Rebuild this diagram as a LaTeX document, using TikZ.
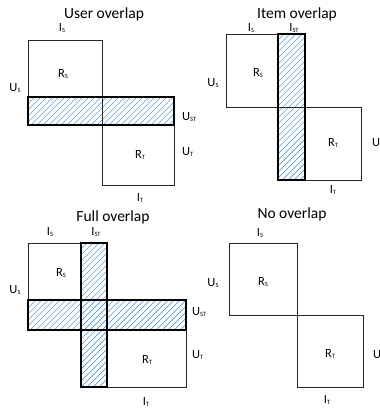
\documentclass[tikz,border=0pt]{standalone}
\usepackage{fontspec}
\setmainfont{Carlito}
\definecolor{hatchblue}{HTML}{5B9BD5}
\newcommand{\lsub}[1]{\raisebox{-0.4pt}{\fontsize{6.5}{7}\selectfont #1}}
% hatched strip: left x, top y, right x, bottom y
\newcommand{\hatchrect}[4]{%
  \begin{scope}
    \clip (#1,#2) rectangle (#3,#4);
    \foreach \c in {0,6,...,800}
      \draw[hatchline] (\c,0) -- (\c-600,600);
  \end{scope}}
\tikzset{
  box/.style={draw=black!85, line width=0.8pt},
  hatchline/.style={draw=hatchblue, line width=0.7pt},
  overlapedge/.style={draw=black, line width=1.4pt},
  title/.style={font=\fontsize{15.5}{18}\selectfont, inner sep=0pt},
  lbl/.style={font=\fontsize{12.5}{15}\selectfont, inner sep=0pt},
}

\begin{document}
\begin{tikzpicture}[x=1pt, y=-1pt]
      \useasboundingbox (0,0) rectangle (380,408);

      % user overlap
      \hatchrect{28}{97}{174}{125}
      \draw[box] (28,40) rectangle (102,125);
      \draw[box] (102,97) rectangle (174,185);
      \draw[overlapedge] (28,97) rectangle (174,125);

      \node[title] (ut) at (104,14) {User overlap};
      \node[lbl] (uis) at (62,28) {I\lsub{S}};
      \node[lbl] (uus) at (15,88) {U\lsub{S}};
      \node[lbl] (urs) at (63,74) {R\lsub{S}};
      \node[lbl] (urt) at (140,155) {R\lsub{T}};
      \node[lbl, anchor=west] (uust) at (182,117) {U\lsub{ST}};
      \node[lbl, anchor=west] (uut) at (182,152) {U\lsub{T}};
      \node[lbl] (uit) at (140,198) {I\lsub{T}};

      % item overlap
      \hatchrect{278}{34}{305}{180}
      \draw[box] (226,34) rectangle (305,107);
      \draw[box] (278,107) rectangle (361,180);
      \draw[overlapedge] (278,34) rectangle (305,180);

      \node[title] (it) at (297,14) {Item overlap};
      \node[lbl] (iis) at (251,28) {I\lsub{S}};
      \node[lbl] (iist) at (294,28) {I\lsub{ST}};
      \node[lbl] (ius) at (213,83) {U\lsub{S}};
      \node[lbl] (irs) at (258,73) {R\lsub{S}};
      \node[lbl] (irt) at (333,143) {R\lsub{T}};
      \node[lbl, anchor=west] (iut) at (372,143) {U\lsub{T}};
      \node[lbl] (iit) at (333,190) {I\lsub{T}};

      % full overlap
      \hatchrect{81}{243}{107}{387}
      \hatchrect{28}{300}{186}{330}
      \draw[box] (28,243) rectangle (107,330);
      \draw[box] (81,300) rectangle (186,387);
      \draw[overlapedge] (81,243) rectangle (107,387);
      \draw[overlapedge] (28,300) rectangle (186,330);

      \node[title] (ft) at (113,217) {Full overlap};
      \node[lbl] (fis) at (50,232) {I\lsub{S}};
      \node[lbl] (fist) at (96,232) {I\lsub{ST}};
      \node[lbl] (fus) at (15,290) {U\lsub{S}};
      \node[lbl] (frs) at (61,273) {R\lsub{S}};
      \node[lbl] (frt) at (147,360) {R\lsub{T}};
      \node[lbl, anchor=west] (fust) at (192,312) {U\lsub{ST}};
      \node[lbl, anchor=west] (fut) at (192,355) {U\lsub{T}};
      \node[lbl] (fit) at (146,402) {I\lsub{T}};

      % no overlap
      \draw[box] (229,243) rectangle (297,315);
      \draw[box] (297,315) rectangle (363,387);

      \node[title] (nt) at (292,214) {No overlap};
      \node[lbl] (nis) at (260,233) {I\lsub{S}};
      \node[lbl] (nus) at (213,283) {U\lsub{S}};
      \node[lbl] (nrs) at (263,282) {R\lsub{S}};
      \node[lbl] (nrt) at (330,354) {R\lsub{T}};
      \node[lbl, anchor=west] (nut) at (373,355) {U\lsub{T}};
      \node[lbl] (nit) at (327,400) {I\lsub{T}};
    \end{tikzpicture}
\end{document}
